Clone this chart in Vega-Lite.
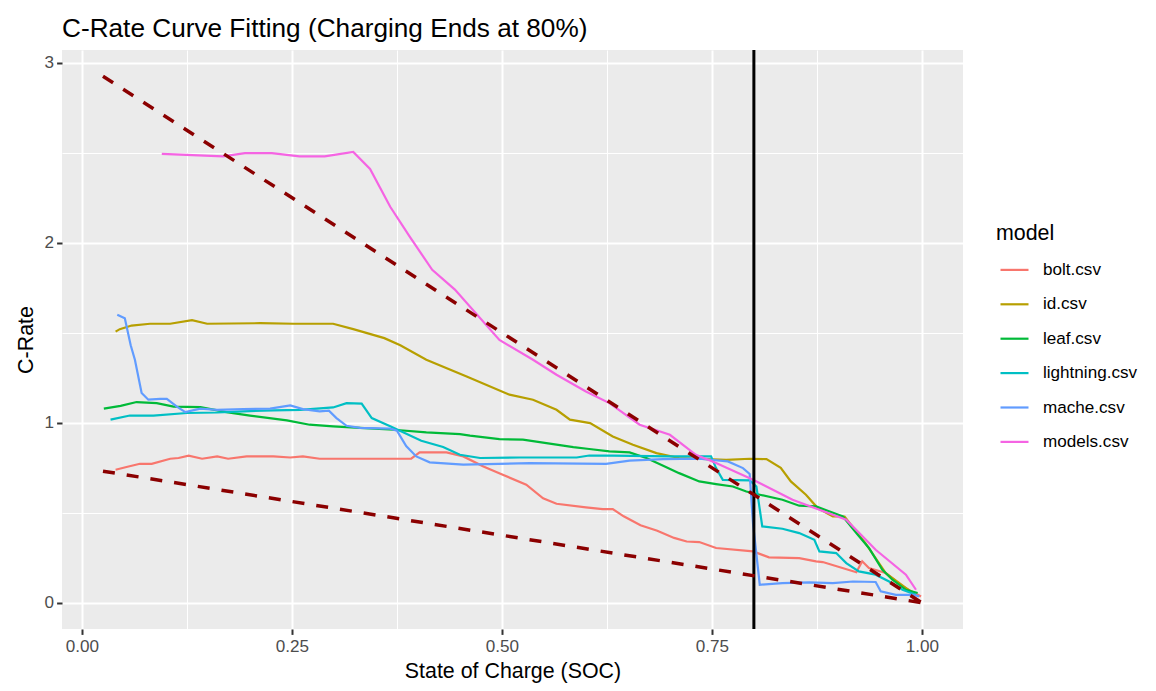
{
  "$schema": "https://vega.github.io/schema/vega-lite/v6.json",
  "width": 901,
  "height": 579,
  "autosize": {"type": "none"},
  "padding": {"left": 62, "top": 50, "right": 193, "bottom": 62},
  "background": "white",
  "title": {
    "text": "C-Rate Curve Fitting (Charging Ends at 80%)",
    "anchor": "start",
    "frame": "group",
    "font": "Liberation Sans",
    "fontSize": 26.2,
    "fontWeight": "normal",
    "color": "black",
    "baseline": "alphabetic",
    "offset": 5,
    "dy": 20
  },
  "config": {
    "view": {"fill": "#EBEBEB", "stroke": null},
    "axis": {
      "domain": false,
      "gridColor": "white",
      "tickColor": "#333333",
      "tickSize": 5.4,
      "tickWidth": 2,
      "labelColor": "#4D4D4D",
      "labelFontSize": 17.1,
      "labelFont": "Liberation Sans",
      "titleFont": "Liberation Sans",
      "titleFontSize": 21.4,
      "titleFontWeight": "normal",
      "titleColor": "black",
      "labelOverlap": false,
      "labelFlush": false
    }
  },
  "datasets": {
    "curves": [
      {"model": "bolt.csv", "soc": 0.040, "crate": 0.739},
      {"model": "bolt.csv", "soc": 0.053, "crate": 0.754},
      {"model": "bolt.csv", "soc": 0.069, "crate": 0.772},
      {"model": "bolt.csv", "soc": 0.083, "crate": 0.772},
      {"model": "bolt.csv", "soc": 0.105, "crate": 0.800},
      {"model": "bolt.csv", "soc": 0.115, "crate": 0.804},
      {"model": "bolt.csv", "soc": 0.127, "crate": 0.817},
      {"model": "bolt.csv", "soc": 0.143, "crate": 0.800},
      {"model": "bolt.csv", "soc": 0.161, "crate": 0.813},
      {"model": "bolt.csv", "soc": 0.174, "crate": 0.800},
      {"model": "bolt.csv", "soc": 0.196, "crate": 0.813},
      {"model": "bolt.csv", "soc": 0.228, "crate": 0.813},
      {"model": "bolt.csv", "soc": 0.248, "crate": 0.807},
      {"model": "bolt.csv", "soc": 0.263, "crate": 0.813},
      {"model": "bolt.csv", "soc": 0.283, "crate": 0.800},
      {"model": "bolt.csv", "soc": 0.331, "crate": 0.800},
      {"model": "bolt.csv", "soc": 0.392, "crate": 0.800},
      {"model": "bolt.csv", "soc": 0.402, "crate": 0.835},
      {"model": "bolt.csv", "soc": 0.434, "crate": 0.835},
      {"model": "bolt.csv", "soc": 0.454, "crate": 0.813},
      {"model": "bolt.csv", "soc": 0.478, "crate": 0.757},
      {"model": "bolt.csv", "soc": 0.501, "crate": 0.711},
      {"model": "bolt.csv", "soc": 0.529, "crate": 0.656},
      {"model": "bolt.csv", "soc": 0.549, "crate": 0.580},
      {"model": "bolt.csv", "soc": 0.565, "crate": 0.550},
      {"model": "bolt.csv", "soc": 0.600, "crate": 0.530},
      {"model": "bolt.csv", "soc": 0.620, "crate": 0.520},
      {"model": "bolt.csv", "soc": 0.632, "crate": 0.520},
      {"model": "bolt.csv", "soc": 0.645, "crate": 0.480},
      {"model": "bolt.csv", "soc": 0.665, "crate": 0.430},
      {"model": "bolt.csv", "soc": 0.685, "crate": 0.400},
      {"model": "bolt.csv", "soc": 0.705, "crate": 0.360},
      {"model": "bolt.csv", "soc": 0.720, "crate": 0.340},
      {"model": "bolt.csv", "soc": 0.735, "crate": 0.337},
      {"model": "bolt.csv", "soc": 0.755, "crate": 0.304},
      {"model": "bolt.csv", "soc": 0.799, "crate": 0.285},
      {"model": "bolt.csv", "soc": 0.818, "crate": 0.252},
      {"model": "bolt.csv", "soc": 0.854, "crate": 0.248},
      {"model": "bolt.csv", "soc": 0.874, "crate": 0.230},
      {"model": "bolt.csv", "soc": 0.882, "crate": 0.226},
      {"model": "bolt.csv", "soc": 0.922, "crate": 0.169},
      {"model": "bolt.csv", "soc": 0.929, "crate": 0.230},
      {"model": "bolt.csv", "soc": 0.937, "crate": 0.193},
      {"model": "bolt.csv", "soc": 0.957, "crate": 0.165},
      {"model": "bolt.csv", "soc": 0.977, "crate": 0.091},
      {"model": "bolt.csv", "soc": 0.999, "crate": 0.035},

      {"model": "id.csv", "soc": 0.040, "crate": 1.506},
      {"model": "id.csv", "soc": 0.045, "crate": 1.520},
      {"model": "id.csv", "soc": 0.059, "crate": 1.540},
      {"model": "id.csv", "soc": 0.081, "crate": 1.550},
      {"model": "id.csv", "soc": 0.105, "crate": 1.550},
      {"model": "id.csv", "soc": 0.131, "crate": 1.570},
      {"model": "id.csv", "soc": 0.149, "crate": 1.550},
      {"model": "id.csv", "soc": 0.212, "crate": 1.553},
      {"model": "id.csv", "soc": 0.252, "crate": 1.550},
      {"model": "id.csv", "soc": 0.299, "crate": 1.550},
      {"model": "id.csv", "soc": 0.323, "crate": 1.520},
      {"model": "id.csv", "soc": 0.360, "crate": 1.470},
      {"model": "id.csv", "soc": 0.379, "crate": 1.430},
      {"model": "id.csv", "soc": 0.410, "crate": 1.350},
      {"model": "id.csv", "soc": 0.458, "crate": 1.257},
      {"model": "id.csv", "soc": 0.509, "crate": 1.156},
      {"model": "id.csv", "soc": 0.537, "crate": 1.128},
      {"model": "id.csv", "soc": 0.565, "crate": 1.072},
      {"model": "id.csv", "soc": 0.581, "crate": 1.017},
      {"model": "id.csv", "soc": 0.605, "crate": 0.998},
      {"model": "id.csv", "soc": 0.632, "crate": 0.924},
      {"model": "id.csv", "soc": 0.656, "crate": 0.878},
      {"model": "id.csv", "soc": 0.684, "crate": 0.831},
      {"model": "id.csv", "soc": 0.711, "crate": 0.804},
      {"model": "id.csv", "soc": 0.767, "crate": 0.794},
      {"model": "id.csv", "soc": 0.795, "crate": 0.800},
      {"model": "id.csv", "soc": 0.815, "crate": 0.798},
      {"model": "id.csv", "soc": 0.832, "crate": 0.750},
      {"model": "id.csv", "soc": 0.844, "crate": 0.674},
      {"model": "id.csv", "soc": 0.862, "crate": 0.600},
      {"model": "id.csv", "soc": 0.876, "crate": 0.526},
      {"model": "id.csv", "soc": 0.894, "crate": 0.479},
      {"model": "id.csv", "soc": 0.908, "crate": 0.479},
      {"model": "id.csv", "soc": 0.933, "crate": 0.330},
      {"model": "id.csv", "soc": 0.957, "crate": 0.165},
      {"model": "id.csv", "soc": 0.989, "crate": 0.054},

      {"model": "leaf.csv", "soc": 0.026, "crate": 1.078},
      {"model": "leaf.csv", "soc": 0.046, "crate": 1.094},
      {"model": "leaf.csv", "soc": 0.065, "crate": 1.115},
      {"model": "leaf.csv", "soc": 0.089, "crate": 1.109},
      {"model": "leaf.csv", "soc": 0.109, "crate": 1.090},
      {"model": "leaf.csv", "soc": 0.141, "crate": 1.087},
      {"model": "leaf.csv", "soc": 0.172, "crate": 1.059},
      {"model": "leaf.csv", "soc": 0.200, "crate": 1.040},
      {"model": "leaf.csv", "soc": 0.244, "crate": 1.013},
      {"model": "leaf.csv", "soc": 0.271, "crate": 0.989},
      {"model": "leaf.csv", "soc": 0.299, "crate": 0.980},
      {"model": "leaf.csv", "soc": 0.331, "crate": 0.971},
      {"model": "leaf.csv", "soc": 0.371, "crate": 0.961},
      {"model": "leaf.csv", "soc": 0.410, "crate": 0.946},
      {"model": "leaf.csv", "soc": 0.450, "crate": 0.937},
      {"model": "leaf.csv", "soc": 0.462, "crate": 0.928},
      {"model": "leaf.csv", "soc": 0.497, "crate": 0.909},
      {"model": "leaf.csv", "soc": 0.525, "crate": 0.906},
      {"model": "leaf.csv", "soc": 0.553, "crate": 0.887},
      {"model": "leaf.csv", "soc": 0.585, "crate": 0.865},
      {"model": "leaf.csv", "soc": 0.604, "crate": 0.854},
      {"model": "leaf.csv", "soc": 0.628, "crate": 0.841},
      {"model": "leaf.csv", "soc": 0.652, "crate": 0.835},
      {"model": "leaf.csv", "soc": 0.672, "crate": 0.804},
      {"model": "leaf.csv", "soc": 0.692, "crate": 0.761},
      {"model": "leaf.csv", "soc": 0.711, "crate": 0.720},
      {"model": "leaf.csv", "soc": 0.735, "crate": 0.674},
      {"model": "leaf.csv", "soc": 0.755, "crate": 0.659},
      {"model": "leaf.csv", "soc": 0.775, "crate": 0.646},
      {"model": "leaf.csv", "soc": 0.791, "crate": 0.618},
      {"model": "leaf.csv", "soc": 0.807, "crate": 0.600},
      {"model": "leaf.csv", "soc": 0.834, "crate": 0.572},
      {"model": "leaf.csv", "soc": 0.854, "crate": 0.539},
      {"model": "leaf.csv", "soc": 0.874, "crate": 0.535},
      {"model": "leaf.csv", "soc": 0.906, "crate": 0.479},
      {"model": "leaf.csv", "soc": 0.922, "crate": 0.387},
      {"model": "leaf.csv", "soc": 0.937, "crate": 0.304},
      {"model": "leaf.csv", "soc": 0.953, "crate": 0.183},
      {"model": "leaf.csv", "soc": 0.965, "crate": 0.128},
      {"model": "leaf.csv", "soc": 0.981, "crate": 0.072},
      {"model": "leaf.csv", "soc": 0.995, "crate": 0.054},

      {"model": "lightning.csv", "soc": 0.034, "crate": 1.017},
      {"model": "lightning.csv", "soc": 0.057, "crate": 1.040},
      {"model": "lightning.csv", "soc": 0.085, "crate": 1.040},
      {"model": "lightning.csv", "soc": 0.125, "crate": 1.054},
      {"model": "lightning.csv", "soc": 0.161, "crate": 1.057},
      {"model": "lightning.csv", "soc": 0.192, "crate": 1.063},
      {"model": "lightning.csv", "soc": 0.228, "crate": 1.069},
      {"model": "lightning.csv", "soc": 0.260, "crate": 1.072},
      {"model": "lightning.csv", "soc": 0.299, "crate": 1.085},
      {"model": "lightning.csv", "soc": 0.315, "crate": 1.109},
      {"model": "lightning.csv", "soc": 0.333, "crate": 1.106},
      {"model": "lightning.csv", "soc": 0.345, "crate": 1.026},
      {"model": "lightning.csv", "soc": 0.367, "crate": 0.980},
      {"model": "lightning.csv", "soc": 0.404, "crate": 0.900},
      {"model": "lightning.csv", "soc": 0.430, "crate": 0.865},
      {"model": "lightning.csv", "soc": 0.450, "crate": 0.822},
      {"model": "lightning.csv", "soc": 0.474, "crate": 0.804},
      {"model": "lightning.csv", "soc": 0.521, "crate": 0.807},
      {"model": "lightning.csv", "soc": 0.589, "crate": 0.807},
      {"model": "lightning.csv", "soc": 0.604, "crate": 0.818},
      {"model": "lightning.csv", "soc": 0.632, "crate": 0.817},
      {"model": "lightning.csv", "soc": 0.700, "crate": 0.813},
      {"model": "lightning.csv", "soc": 0.749, "crate": 0.813},
      {"model": "lightning.csv", "soc": 0.755, "crate": 0.748},
      {"model": "lightning.csv", "soc": 0.763, "crate": 0.683},
      {"model": "lightning.csv", "soc": 0.795, "crate": 0.680},
      {"model": "lightning.csv", "soc": 0.803, "crate": 0.646},
      {"model": "lightning.csv", "soc": 0.810, "crate": 0.424},
      {"model": "lightning.csv", "soc": 0.834, "crate": 0.411},
      {"model": "lightning.csv", "soc": 0.854, "crate": 0.387},
      {"model": "lightning.csv", "soc": 0.872, "crate": 0.350},
      {"model": "lightning.csv", "soc": 0.878, "crate": 0.285},
      {"model": "lightning.csv", "soc": 0.898, "crate": 0.276},
      {"model": "lightning.csv", "soc": 0.910, "crate": 0.220},
      {"model": "lightning.csv", "soc": 0.925, "crate": 0.174},
      {"model": "lightning.csv", "soc": 0.945, "crate": 0.156},
      {"model": "lightning.csv", "soc": 0.961, "crate": 0.118},
      {"model": "lightning.csv", "soc": 0.977, "crate": 0.072},
      {"model": "lightning.csv", "soc": 0.993, "crate": 0.044},

      {"model": "mache.csv", "soc": 0.042, "crate": 1.600},
      {"model": "mache.csv", "soc": 0.051, "crate": 1.580},
      {"model": "mache.csv", "soc": 0.058, "crate": 1.430},
      {"model": "mache.csv", "soc": 0.063, "crate": 1.350},
      {"model": "mache.csv", "soc": 0.071, "crate": 1.165},
      {"model": "mache.csv", "soc": 0.079, "crate": 1.128},
      {"model": "mache.csv", "soc": 0.093, "crate": 1.133},
      {"model": "mache.csv", "soc": 0.101, "crate": 1.133},
      {"model": "mache.csv", "soc": 0.113, "crate": 1.090},
      {"model": "mache.csv", "soc": 0.123, "crate": 1.059},
      {"model": "mache.csv", "soc": 0.141, "crate": 1.078},
      {"model": "mache.csv", "soc": 0.161, "crate": 1.072},
      {"model": "mache.csv", "soc": 0.192, "crate": 1.076},
      {"model": "mache.csv", "soc": 0.224, "crate": 1.078},
      {"model": "mache.csv", "soc": 0.248, "crate": 1.096},
      {"model": "mache.csv", "soc": 0.263, "crate": 1.076},
      {"model": "mache.csv", "soc": 0.283, "crate": 1.063},
      {"model": "mache.csv", "soc": 0.294, "crate": 1.067},
      {"model": "mache.csv", "soc": 0.303, "crate": 1.026},
      {"model": "mache.csv", "soc": 0.315, "crate": 0.983},
      {"model": "mache.csv", "soc": 0.331, "crate": 0.971},
      {"model": "mache.csv", "soc": 0.367, "crate": 0.967},
      {"model": "mache.csv", "soc": 0.375, "crate": 0.956},
      {"model": "mache.csv", "soc": 0.386, "crate": 0.870},
      {"model": "mache.csv", "soc": 0.398, "crate": 0.813},
      {"model": "mache.csv", "soc": 0.414, "crate": 0.780},
      {"model": "mache.csv", "soc": 0.454, "crate": 0.767},
      {"model": "mache.csv", "soc": 0.533, "crate": 0.776},
      {"model": "mache.csv", "soc": 0.624, "crate": 0.771},
      {"model": "mache.csv", "soc": 0.652, "crate": 0.789},
      {"model": "mache.csv", "soc": 0.692, "crate": 0.798},
      {"model": "mache.csv", "soc": 0.735, "crate": 0.800},
      {"model": "mache.csv", "soc": 0.769, "crate": 0.785},
      {"model": "mache.csv", "soc": 0.787, "crate": 0.748},
      {"model": "mache.csv", "soc": 0.795, "crate": 0.715},
      {"model": "mache.csv", "soc": 0.799, "crate": 0.440},
      {"model": "mache.csv", "soc": 0.807, "crate": 0.100},
      {"model": "mache.csv", "soc": 0.834, "crate": 0.109},
      {"model": "mache.csv", "soc": 0.866, "crate": 0.113},
      {"model": "mache.csv", "soc": 0.894, "crate": 0.109},
      {"model": "mache.csv", "soc": 0.918, "crate": 0.118},
      {"model": "mache.csv", "soc": 0.945, "crate": 0.115},
      {"model": "mache.csv", "soc": 0.951, "crate": 0.063},
      {"model": "mache.csv", "soc": 0.969, "crate": 0.044},
      {"model": "mache.csv", "soc": 0.989, "crate": 0.044},
      {"model": "mache.csv", "soc": 0.997, "crate": 0.035},

      {"model": "models.csv", "soc": 0.095, "crate": 2.494},
      {"model": "models.csv", "soc": 0.168, "crate": 2.480},
      {"model": "models.csv", "soc": 0.194, "crate": 2.498},
      {"model": "models.csv", "soc": 0.226, "crate": 2.498},
      {"model": "models.csv", "soc": 0.259, "crate": 2.480},
      {"model": "models.csv", "soc": 0.289, "crate": 2.480},
      {"model": "models.csv", "soc": 0.323, "crate": 2.505},
      {"model": "models.csv", "soc": 0.343, "crate": 2.410},
      {"model": "models.csv", "soc": 0.367, "crate": 2.200},
      {"model": "models.csv", "soc": 0.390, "crate": 2.035},
      {"model": "models.csv", "soc": 0.417, "crate": 1.850},
      {"model": "models.csv", "soc": 0.444, "crate": 1.740},
      {"model": "models.csv", "soc": 0.497, "crate": 1.460},
      {"model": "models.csv", "soc": 0.537, "crate": 1.350},
      {"model": "models.csv", "soc": 0.565, "crate": 1.267},
      {"model": "models.csv", "soc": 0.600, "crate": 1.174},
      {"model": "models.csv", "soc": 0.628, "crate": 1.109},
      {"model": "models.csv", "soc": 0.664, "crate": 0.989},
      {"model": "models.csv", "soc": 0.700, "crate": 0.933},
      {"model": "models.csv", "soc": 0.731, "crate": 0.822},
      {"model": "models.csv", "soc": 0.755, "crate": 0.776},
      {"model": "models.csv", "soc": 0.799, "crate": 0.683},
      {"model": "models.csv", "soc": 0.846, "crate": 0.572},
      {"model": "models.csv", "soc": 0.910, "crate": 0.461},
      {"model": "models.csv", "soc": 0.945, "crate": 0.294},
      {"model": "models.csv", "soc": 0.981, "crate": 0.156},
      {"model": "models.csv", "soc": 0.993, "crate": 0.072}
    ],
    "fits": [
      {"fit": "upper", "soc": 0.025, "crate": 2.925},
      {"fit": "upper", "soc": 1.0, "crate": 0.0},
      {"fit": "lower", "soc": 0.025, "crate": 0.731},
      {"fit": "lower", "soc": 1.0, "crate": 0.0}
    ],
    "cutoff": [{"soc": 0.8}]
  },
  "encoding": {
    "x": {
      "field": "soc",
      "type": "quantitative",
      "scale": {"domain": [-0.0238, 1.049], "nice": false, "zero": false},
      "axis": {
        "title": "State of Charge (SOC)",
        "values": [0, 0.125, 0.25, 0.375, 0.5, 0.625, 0.75, 0.875, 1],
        "labelExpr": "(datum.value * 4) % 1 == 0 ? format(datum.value, '.2f') : ''",
        "gridWidth": {"condition": {"test": "(datum.value * 4) % 1 == 0", "value": 2}, "value": 1},
        "tickOpacity": {"condition": {"test": "(datum.value * 4) % 1 == 0", "value": 1}, "value": 0},
        "labelPadding": 3,
        "titlePadding": 6
      }
    },
    "y": {
      "field": "crate",
      "type": "quantitative",
      "scale": {"domain": [-0.146, 3.071], "nice": false, "zero": false},
      "axis": {
        "title": "C-Rate",
        "values": [0, 0.5, 1, 1.5, 2, 2.5, 3],
        "labelExpr": "datum.value % 1 == 0 ? format(datum.value, 'd') : ''",
        "gridWidth": {"condition": {"test": "datum.value % 1 == 0", "value": 2}, "value": 1},
        "tickOpacity": {"condition": {"test": "datum.value % 1 == 0", "value": 1}, "value": 0},
        "labelPadding": 3,
        "titlePadding": 8
      }
    }
  },
  "layer": [
    {
      "data": {"name": "curves"},
      "mark": {"type": "line", "strokeWidth": 2.2},
      "encoding": {
        "color": {
          "field": "model",
          "type": "nominal",
          "scale": {
            "domain": ["bolt.csv", "id.csv", "leaf.csv", "lightning.csv", "mache.csv", "models.csv"],
            "range": ["#F8766D", "#B79F00", "#00BA38", "#00BFC4", "#619CFF", "#F564E3"]
          },
          "legend": {
            "title": "model",
            "orient": "none",
            "legendX": 934,
            "legendY": 173,
            "padding": 0,
            "symbolType": "stroke",
            "symbolSize": 784,
            "symbolStrokeWidth": 2.2,
            "symbolOffset": 3,
            "labelOffset": 13,
            "rowPadding": 10.4,
            "titlePadding": 10,
            "titleFont": "Liberation Sans",
            "titleFontSize": 21.4,
            "titleFontWeight": "normal",
            "titleColor": "black",
            "labelFont": "Liberation Sans",
            "labelFontSize": 17.1,
            "labelColor": "black"
          }
        }
      }
    },
    {
      "data": {"name": "cutoff"},
      "mark": {"type": "rule", "color": "black", "strokeWidth": 3},
      "encoding": {"x": {"field": "soc", "type": "quantitative"}, "y": null}
    },
    {
      "data": {"name": "fits"},
      "mark": {"type": "line", "color": "#8B0000", "strokeWidth": 3.5, "strokeDash": [12, 12]},
      "encoding": {"detail": {"field": "fit", "type": "nominal"}}
    }
  ]
}
